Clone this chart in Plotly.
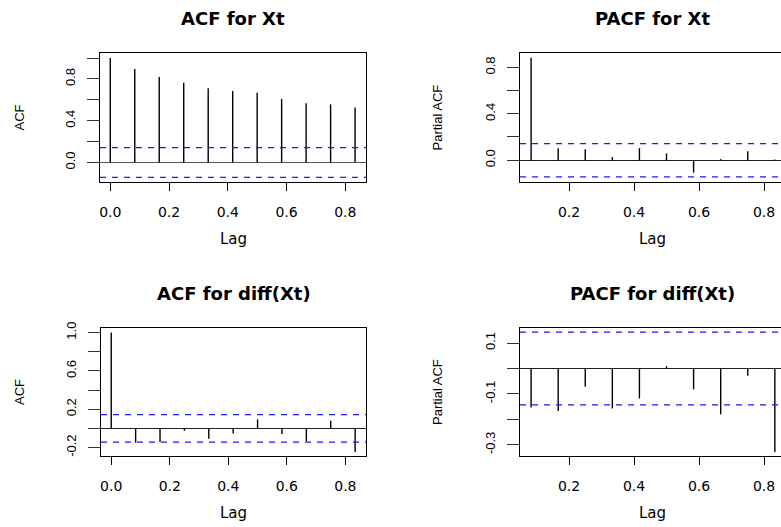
import plotly.graph_objects as go

# ---------------- data ----------------
lags_acf = [k / 12 for k in range(0, 11)]     # lag 0 .. 10 (in years)
lags_pacf = [k / 12 for k in range(1, 11)]    # lag 1 .. 10

acf_xt = [1.0, 0.895, 0.818, 0.763, 0.712, 0.686, 0.667, 0.609, 0.567, 0.557, 0.528]
pacf_xt = [0.882, 0.104, 0.095, 0.026, 0.104, 0.058, -0.107, 0.009, 0.078, 0.005]
acf_diff = [1.0, -0.149, -0.142, -0.024, -0.107, -0.052, 0.094, -0.059, -0.135, 0.080, -0.246]
pacf_diff = [-0.153, -0.167, -0.072, -0.157, -0.118, 0.009, -0.082, -0.180, -0.029, -0.328]

clim = 0.143  # 95% confidence bound

titles = ["ACF for Xt", "PACF for Xt", "ACF for diff(Xt)", "PACF for diff(Xt)"]
ylabels = ["ACF", "Partial ACF", "ACF", "Partial ACF"]
xlabel = "Lag"

x_ticks_left = [0.0, 0.2, 0.4, 0.6, 0.8]
x_ticks_right = [0.2, 0.4, 0.6, 0.8]

y1_vals = [0.0, 0.2, 0.4, 0.6, 0.8, 1.0]
y1_text = ["0.0", "", "0.4", "", "0.8", ""]
y2_vals = [0.0, 0.2, 0.4, 0.6, 0.8]
y2_text = ["0.0", "", "0.4", "", "0.8"]
y3_vals = [-0.2, 0.0, 0.2, 0.4, 0.6, 0.8, 1.0]
y3_text = ["-0.2", "", "0.2", "", "0.6", "", "1.0"]
y4_vals = [-0.3, -0.2, -0.1, 0.0, 0.1]
y4_text = ["-0.3", "", "-0.1", "", "0.1"]

# ---------------- layout geometry (pixels) ----------------
W, H = 781, 527
panels = [
    # x0, x1, ytop, ybottom, xrange, yrange
    (100, 366, 53, 182, [-0.035, 0.8705], [-0.187, 1.049]),
    (520, 781, 53, 182, [0.0492, 0.8523], [-0.188, 0.924]),
    (101, 366, 328, 456, [-0.035, 0.8705], [-0.288, 1.048]),
    (520, 781, 328, 456, [0.0492, 0.8523], [-0.344, 0.159]),
]
series = [(lags_acf, acf_xt), (lags_pacf, pacf_xt), (lags_acf, acf_diff), (lags_pacf, pacf_diff)]
yticks = [(y1_vals, y1_text), (y2_vals, y2_text), (y3_vals, y3_text), (y4_vals, y4_text)]
xticks = [x_ticks_left, x_ticks_right, x_ticks_left, x_ticks_right]

fig = go.Figure()
layout = dict(
    width=W, height=H, margin=dict(l=0, r=0, t=0, b=0, autoexpand=False),
    paper_bgcolor="white", plot_bgcolor="white", showlegend=False,
)
annotations = []

tick_font_x = dict(family="DejaVu Sans", size=14, color="black")
tick_font_y = dict(family="Liberation Sans, Arial", size=13, color="black")

for i, (geom, (lx, vals), (yv, yt), xt) in enumerate(zip(panels, series, yticks, xticks)):
    x0, x1, yt_px, yb_px, xr, yr = geom
    n = "" if i == 0 else str(i + 1)
    xs, ys = [], []
    for lag, v in zip(lx, vals):
        xs += [lag, lag, None]
        ys += [0, v, None]
    fig.add_trace(go.Scatter(x=xs, y=ys, mode="lines", xaxis="x" + n, yaxis="y" + n,
                             line=dict(color="black", width=1.4), hoverinfo="skip"))
    # confidence bounds
    for c in (clim, -clim):
        fig.add_trace(go.Scatter(x=[xr[0], xr[1]], y=[c, c], mode="lines",
                                 xaxis="x" + n, yaxis="y" + n,
                                 line=dict(color="#1a1aff", width=1.2, dash="6px,6px"),
                                 hoverinfo="skip"))
    is_left = i % 2 == 0
    layout["xaxis" + n] = dict(
        domain=[x0 / W, x1 / W], range=xr, anchor="y" + n, automargin=False,
        showgrid=False, zeroline=False, showline=True, mirror=True,
        linecolor="black", linewidth=1.2,
        ticks="outside", ticklen=8, tickwidth=1.2, tickcolor="black",
        tickvals=xt, ticktext=[f"{v:.1f}" for v in xt], tickfont=tick_font_x,
        ticklabelstandoff=9,
    )
    layout["yaxis" + n] = dict(
        domain=[1 - yb_px / H, 1 - yt_px / H], range=yr, anchor="x" + n, automargin=False,
        showgrid=False, zeroline=True, zerolinecolor="#555555" if i == 0 else "#222222",
        zerolinewidth=1.4,
        showline=True, mirror=is_left, linecolor="black", linewidth=1.2,
        ticks="outside", ticklen=12, tickwidth=1.2, tickcolor="#333333",
        tickvals=yv, ticktext=yt, tickangle=-90, tickfont=tick_font_y,
        ticklabelstandoff=7,
    )
    cx = (x0 + (784.6 if not is_left else x1)) / 2
    title_y = yt_px - 35
    annotations.append(dict(text=titles[i], x=cx / W, y=1 - title_y / H, xref="paper", yref="paper",
                            showarrow=False, xanchor="center", yanchor="middle",
                            font=dict(family="DejaVu Sans", size=18, color="black", weight="bold")))
    annotations.append(dict(text=xlabel, x=cx / W, y=1 - (yb_px + 57) / H, xref="paper", yref="paper",
                            showarrow=False, xanchor="center", yanchor="middle",
                            font=dict(family="DejaVu Sans", size=15, color="black")))
    ylx = 19 if is_left else 437
    annotations.append(dict(text=ylabels[i], x=ylx / W, y=1 - ((yt_px + yb_px) / 2) / H,
                            xref="paper", yref="paper", textangle=-90,
                            showarrow=False, xanchor="center", yanchor="middle",
                            font=dict(family="Liberation Sans, Arial", size=13, color="black")))

layout["annotations"] = annotations
fig.update_layout(**layout)
fig.write_html(
    "out.html",
    config={"displayModeBar": False},
    post_script="document.body.style.margin='0';document.body.style.overflow='hidden';",
)
